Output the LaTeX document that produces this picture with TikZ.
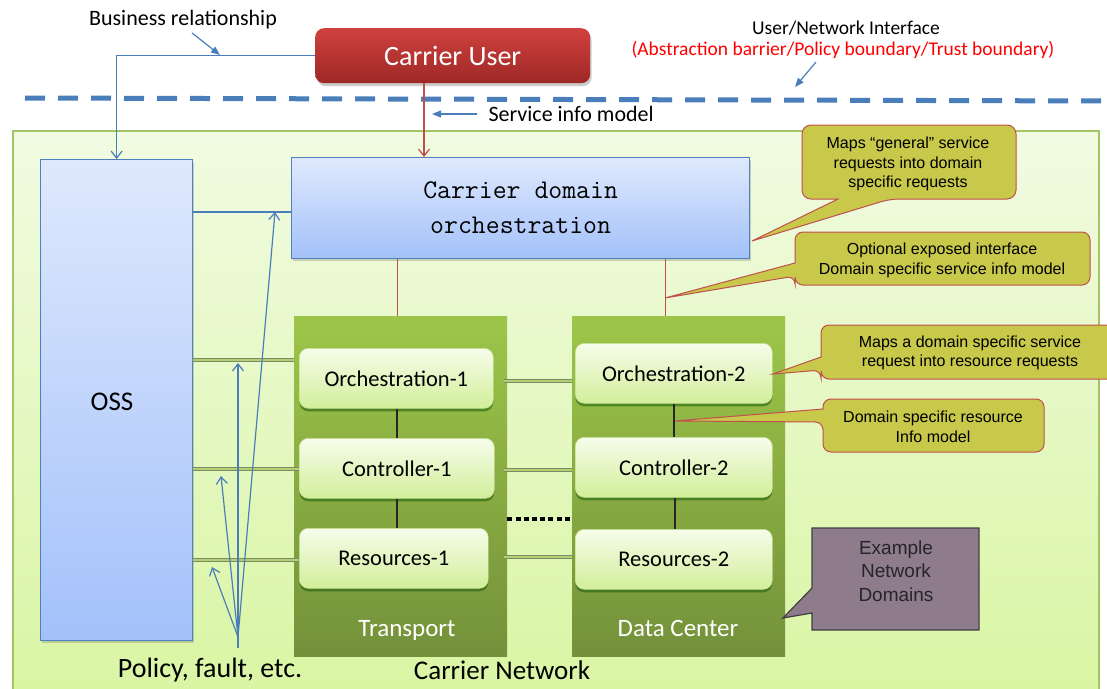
\documentclass[tikz,border=0pt]{standalone}
\usepackage{fontspec}
\setmainfont{Carlito}
\newfontfamily\arialfont{Liberation Sans}
\usetikzlibrary{arrows.meta,shadows}

\definecolor{blueLine}{HTML}{4A7EBB}
\definecolor{redLine}{HTML}{C0504D}
\definecolor{calloutFill}{HTML}{C8C84B}
\definecolor{exampleFill}{HTML}{8E7B8B}
\definecolor{netBorder}{HTML}{A4C463}
\definecolor{netTop}{HTML}{F1FBE2}
\definecolor{netBot}{HTML}{D8F5A0}
\definecolor{domTop}{HTML}{9DC649}
\definecolor{domBot}{HTML}{74913A}
\definecolor{innerTop}{HTML}{F6FDEB}
\definecolor{innerBot}{HTML}{D2EE9A}
\definecolor{innerBorder}{HTML}{C2DC8A}
\definecolor{ossTop}{HTML}{DFE9FD}
\definecolor{ossBot}{HTML}{A3C1FA}
\definecolor{ossBorder}{HTML}{4F81BD}
\definecolor{cuTop}{HTML}{D0413E}
\definecolor{cuBot}{HTML}{9E2826}
\definecolor{linkGreen}{HTML}{B2D271}
\definecolor{linkGrey}{HTML}{7C8A68}

\tikzset{
  box/.style={inner sep=0pt, anchor=north west},
  netarea/.style={box, draw=netBorder, line width=1.5pt, top color=netTop, bottom color=netBot},
  bluebox/.style={box, draw=ossBorder, line width=1.2pt, top color=ossTop, bottom color=ossBot,
    drop shadow={shadow xshift=1pt, shadow yshift=-2pt, opacity=.35}},
  cubox/.style={box, rounded corners=9pt, top color=cuTop, bottom color=cuBot, text=white,
    font=\fontsize{28}{32}\selectfont,
    drop shadow={shadow xshift=1.5pt, shadow yshift=-3pt, opacity=.4}},
  dombox/.style={box, top color=domTop, bottom color=domBot},
  domlabel/.style={text=white, font=\fontsize{25}{28}\selectfont},
  innerbox/.style={box, rounded corners=9pt, draw=innerBorder, line width=.6pt,
    top color=innerTop, bottom color=innerBot, font=\fontsize{22.5}{26}\selectfont,
    drop shadow={shadow xshift=0pt, shadow yshift=-3pt, opacity=.45, fill=black!70!green}},
  callout/.style={fill=calloutFill, draw=redLine, line width=1pt},
  callouttext/.style={font=\arialfont\fontsize{16}{19.5}\selectfont, align=center},
  examplecallout/.style={fill=exampleFill, draw=black!75, line width=1.2pt},
  barrow/.style={draw=blueLine, line width=1.2pt, -{Straight Barb[length=7pt,width=11pt]}},
  rarrow/.style={draw=redLine, line width=1.2pt, -{Straight Barb[length=7pt,width=11pt]}},
  bline/.style={draw=blueLine, line width=1.2pt},
  rline/.style={draw=redLine, line width=1pt},
  kline/.style={draw=black!85, line width=1.2pt},
  ptr/.style={draw=blueLine, line width=1.2pt, -{Triangle[length=9pt,width=7pt]}},
  link/.style={draw=linkGrey, line width=.7pt, double=linkGreen, double distance=1.8pt},
  boundary/.style={draw=blueLine, line width=5pt, dash pattern=on 20pt off 13pt},
}

\begin{document}
\begin{tikzpicture}[x=1pt,y=-1pt]
\useasboundingbox (0,0) rectangle (1107,688);
\fill[white] (0,0) rectangle (1107,688);

% carrier network area
\node[netarea, minimum width=1086pt, minimum height=590pt] (net) at (12,130) {};

% user/network boundary
\coordinate (uniL) at (25,98);
\coordinate (uniR) at (1110,101);
\draw[boundary] (uniL) -- (uniR);

% main blocks
\node[cubox, minimum width=275pt, minimum height=55pt] (cu) at (315,28) {Carrier User};
\node[bluebox, minimum width=152pt, minimum height=481pt] (oss) at (40,159) {};
\node[font=\fontsize{27}{30}\selectfont] (osslabel) at (112,402) {OSS};
\node[bluebox, minimum width=458pt, minimum height=101pt, align=center,
      font=\ttfamily\fontsize{27}{35}\selectfont] (cdo) at (291,157) {Carrier domain\\orchestration};

% network domains
\node[dombox, minimum width=213pt, minimum height=340pt] (tr) at (294,316) {};
\node[dombox, minimum width=213pt, minimum height=340pt] (dc) at (572,316) {};
\node[domlabel] (trlabel) at (407,630) {Transport};
\node[domlabel] (dclabel) at (678,628) {Data Center};

\node[innerbox, minimum width=194pt, minimum height=60pt] (orch1) at (299,348) {Orchestration-1};
\node[innerbox, minimum width=195pt, minimum height=60pt] (ctrl1) at (299,438) {Controller-1};
\node[innerbox, minimum width=189pt, minimum height=60pt] (res1) at (299,528) {Resources-1};
\node[innerbox, minimum width=197pt, minimum height=60pt] (orch2) at (575,343) {Orchestration-2};
\node[innerbox, minimum width=197pt, minimum height=60pt] (ctrl2) at (575,437) {Controller-2};
\node[innerbox, minimum width=197pt, minimum height=60pt] (res2) at (575,529) {Resources-2};

% vertical links inside domains
\draw[kline] (orch1.south -| 397,0) -- (ctrl1.north -| 397,0);
\draw[kline] (ctrl1.south -| 397,0) -- (res1.north -| 397,0);
\draw[kline] (orch2.south -| 674,0) -- (ctrl2.north -| 674,0);
\draw[kline] (ctrl2.south -| 675,0) -- (res2.north -| 675,0);

% links between domains
\draw[link] ([xshift=-3pt]tr.east |- 0,381) -- (dc.west |- 0,381);
\draw[link] ([xshift=-3pt]tr.east |- 0,470) -- (dc.west |- 0,470);
\draw[link] ([xshift=-3pt]tr.east |- 0,557) -- (dc.west |- 0,557);
\draw[black, line width=4pt, dash pattern=on 5pt off 3.2pt] (tr.east |- 0,519) -- (dc.west |- 0,519);

% OSS links
\draw[link] (oss.east |- 0,360) -- (tr.west |- 0,360);
\draw[link] (oss.east |- 0,469) -- (ctrl1.west |- 0,469);
\draw[link] (oss.east |- 0,560) -- (res1.west |- 0,560);
\draw[bline] (oss.east |- 0,212) -- (cdo.west |- 0,212);

% orchestration to domains
\draw[rline] (cdo.south -| 397,0) -- (tr.north -| 397,0);
\draw[rline] (cdo.south -| 665,0) -- (dc.north -| 665,0);

% carrier user relations
\draw[rarrow] (cu.south -| 424,0) -- (cdo.north -| 424,0);
\draw[barrow] (cu.west) -| (oss.north);

% labels at the top
\node[font=\fontsize{22}{26}\selectfont] (brlabel) at (183,20) {Business relationship};
\coordinate (brtip) at (220,55);
\draw[ptr] ([xshift=9pt]brlabel.south) -- (brtip);

\node[font=\fontsize{22}{26}\selectfont, anchor=west] (silabel) at (485,114) {Service info model};
\coordinate (sitip) at (432,114);
\draw[ptr] ([xshift=-8pt]silabel.west) -- (sitip);

\node[font=\fontsize{19.5}{23}\selectfont] (unilabel) at (846,28) {User/Network Interface};
\node[font=\fontsize{19.5}{23}\selectfont, text=red] (unired) at (843,50) {(Abstraction barrier/Policy boundary/Trust boundary)};
\coordinate (unitip) at (795,87);
\draw[ptr] (816,62) -- (unitip);

% policy, fault, etc.
\node[font=\fontsize{28}{32}\selectfont, inner sep=0pt] (pflabel) at (210,670) {Policy, fault, etc.};
\coordinate (pf) at (238,637);
\coordinate (pfv) at (238,648);
\draw[barrow] (pf) -- (275,212);
\draw[barrow] (pfv) -- (238,363);
\draw[barrow] (pf) -- (221,476);
\draw[barrow] (pf) -- (212,567);

\node[font=\fontsize{27}{32}\selectfont, inner sep=0pt] (netlabel) at (502,670) {Carrier Network};

% callouts
\coordinate (c1tip) at (752,241);
\path[callout] (909,125) [rounded corners=9pt] -- (1016,125) -- (1016,199) -- (890,199)
  [sharp corners] -- (c1tip) -- (838,199) [rounded corners=9pt] -- (802,199) -- (802,125) -- cycle;
\node[callouttext] (c1text) at (908,164) {Maps “general” service\\requests into domain\\specific requests};

\coordinate (c2tip) at (665,298);
\path[callout] (940,232) [rounded corners=8pt] -- (1090,232) -- (1090,285) -- (795,285) -- (795,276)
  [sharp corners] -- (c2tip) -- (795,263) [rounded corners=8pt] -- (795,232) -- cycle;
\node[callouttext] (c2text) at (942,260.5) {Optional exposed interface\\Domain specific service info model};

\coordinate (c3tip) at (773,374);
\path[callout] (960,325) [rounded corners=8pt] -- (1116,325) -- (1116,379) -- (821,379) -- (821,370)
  [sharp corners] -- (c3tip) -- (821,357) [rounded corners=8pt] -- (821,325) -- cycle;
\node[callouttext] (c3text) at (970,353) {Maps a domain specific service\\request into resource requests};

\coordinate (c4tip) at (675,421);
\path[callout] (930,399) [rounded corners=8pt] -- (1044,399) -- (1044,452) -- (823,452) -- (823,422)
  [sharp corners] -- (c4tip) -- (823,409) [rounded corners=8pt] -- (823,399) -- cycle;
\node[callouttext] (c4text) at (933,427) {Domain specific resource\\Info model};

\coordinate (c5tip) at (783,618);
\path[examplecallout] (812,528) -- (979,528) -- (979,630) -- (812,630) -- (812,613) -- (c5tip) -- (812,588) -- cycle;
\node[font=\arialfont\fontsize{19}{23.5}\selectfont, align=center, text=black!85] (c5text) at (896,571) {Example\\Network\\Domains};
\end{tikzpicture}
\end{document}
